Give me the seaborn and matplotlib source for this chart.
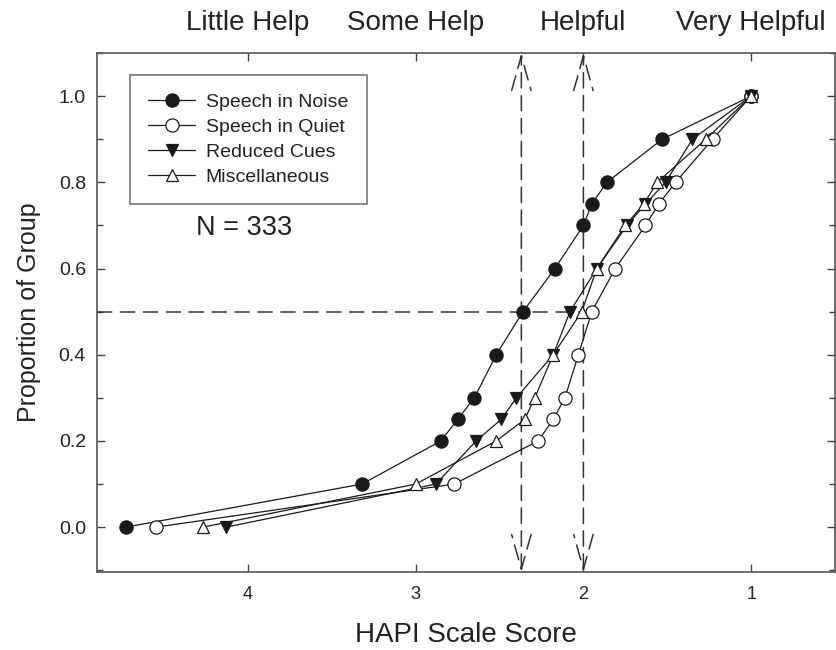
import numpy as np
import pandas as pd
import matplotlib
matplotlib.use("Agg")
import matplotlib.pyplot as plt
import seaborn as sns

# ---- data ----
proportion = [0.0, 0.1, 0.2, 0.25, 0.3, 0.4, 0.5, 0.6, 0.7, 0.75, 0.8, 0.9, 1.0]
speech_noise = [4.73, 3.32, 2.85, 2.75, 2.65, 2.52, 2.36, 2.17, 2.00, 1.95, 1.86, 1.53, 1.0]
speech_quiet = [4.55, 2.77, 2.27, 2.18, 2.11, 2.03, 1.95, 1.81, 1.63, 1.55, 1.45, 1.23, 1.0]
reduced_cues = [4.13, 2.88, 2.64, 2.49, 2.40, 2.18, 2.08, 1.92, 1.74, 1.63, 1.51, 1.35, 1.0]
miscellaneous = [4.27, 3.00, 2.52, 2.35, 2.29, 2.18, 2.01, 1.92, 1.75, 1.64, 1.56, 1.27, 1.0]
series_names = ["Speech in Noise", "Speech in Quiet", "Reduced Cues", "Miscellaneous"]
top_labels = ["Little Help", "Some Help", "Helpful", "Very Helpful"]
top_label_pos = [4, 3, 2, 1]
median_scores = [2.37, 2.0]
x_ticks = [4, 3, 2, 1]
y_ticks = [0.0, 0.2, 0.4, 0.6, 0.8, 1.0]

sns.set_style("ticks")
plt.rcParams["font.family"] = ["Liberation Sans", "DejaVu Sans"]

fig = plt.figure(figsize=(8.36, 6.5), dpi=100)
ax = fig.add_axes([97 / 836, 78 / 650, 738 / 836, 519 / 650])

YMIN, YMAX = -0.104, 1.1
XMIN, XMAX = 4.9, 0.5

line_c = "#1a1a1a"
styles = [
    dict(marker="o", markerfacecolor=line_c, markersize=9.5),
    dict(marker="o", markerfacecolor="white", markersize=9.5),
    dict(marker="v", markerfacecolor=line_c, markersize=8),
    dict(marker="^", markerfacecolor="white", markersize=8),
]
all_series = [speech_noise, speech_quiet, reduced_cues, miscellaneous]
for name, xs, st in zip(series_names, all_series, styles):
    df = pd.DataFrame({"score": xs, "prop": proportion})
    sns.lineplot(data=df, x="score", y="prop", sort=False, estimator=None,
                 color=line_c, lw=0.9, markeredgecolor=line_c,
                 markeredgewidth=0.9, label=name, ax=ax, **st)

ax.set_xlim(XMIN, XMAX)
ax.set_ylim(YMIN, YMAX)

# dashed reference lines
dash = (0, (10, 5))
ax.plot([XMIN, 2.0], [0.5, 0.5], color="#333333", lw=1.1, linestyle=dash, zorder=1)
for xm in median_scores:
    ax.annotate("", xy=(xm, YMAX), xytext=(xm, YMIN),
                arrowprops=dict(arrowstyle="<->,head_length=2.5,head_width=0.7",
                                linestyle=dash, lw=1.1, color="#333333",
                                shrinkA=0, shrinkB=0, mutation_scale=10),
                zorder=1)

ax.set_xticks(x_ticks)
ax.set_xticklabels([str(t) for t in x_ticks])
ax.set_yticks(y_ticks)
ax.set_yticklabels([f"{t:.1f}" for t in y_ticks])
ax.yaxis.set_minor_locator(matplotlib.ticker.MultipleLocator(0.1))
ax.tick_params(axis="both", which="major", direction="in", length=6, width=1,
               color="#444444", labelcolor="#222222", top=True, right=True)
ax.tick_params(axis="y", which="major", pad=8, labelsize=14)
ax.tick_params(axis="x", which="major", pad=10, labelsize=13)
ax.tick_params(axis="y", which="minor", direction="in", length=4, width=1,
               color="#444444", right=True)
for s in ax.spines.values():
    s.set_color("#555555")
    s.set_linewidth(1.2)

ax.set_xlabel("HAPI Scale Score", fontsize=20, color="#222222", labelpad=14)
ax.set_ylabel("Proportion of Group", fontsize=18, color="#222222", labelpad=13)

for lab, xp in zip(top_labels, top_label_pos):
    ax.text(xp, 1.058, lab, transform=ax.get_xaxis_transform(), ha="center",
            va="center", fontsize=20, color="#222222")

ax.text(4.02, 0.695, "N = 333", ha="center", va="center", fontsize=19.5,
        color="#222222")

leg = ax.legend(loc="upper left", bbox_to_anchor=(0.0447, 0.9576), fontsize=14,
                frameon=True, fancybox=False, edgecolor="#555555",
                handlelength=2.4, handletextpad=0.55, labelspacing=0.37,
                borderpad=0.95, borderaxespad=0)
leg.get_frame().set_linewidth(1.2)
for t in leg.get_texts():
    t.set_color("#222222")

fig.savefig("out.png", dpi=100)
